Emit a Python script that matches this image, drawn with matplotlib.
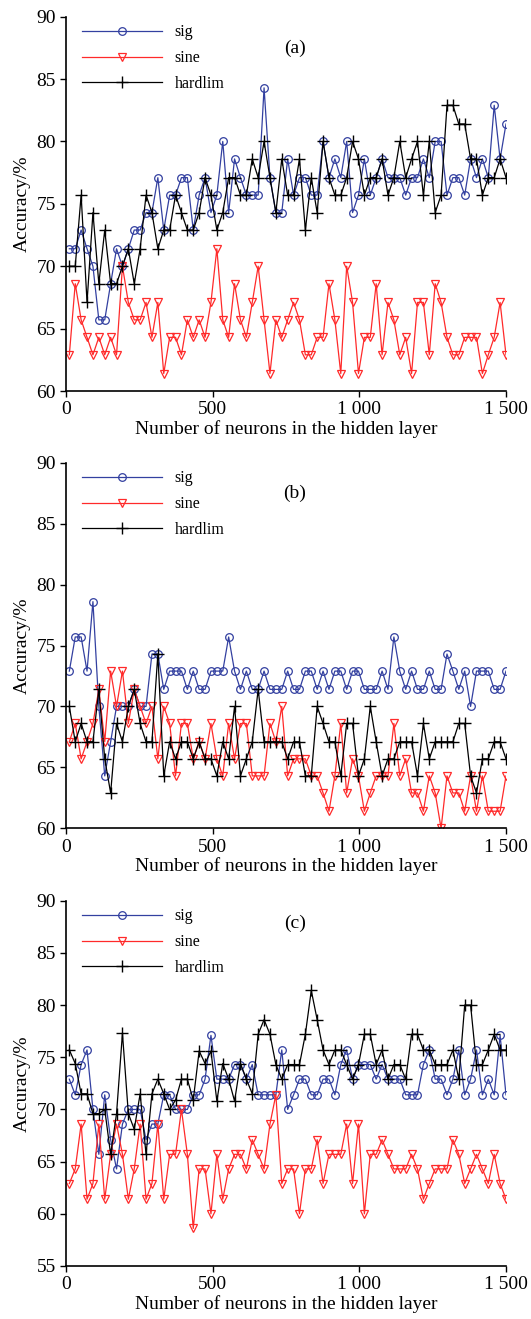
import numpy as np
import matplotlib
matplotlib.use('Agg')
import matplotlib.pyplot as plt

plt.rcParams['font.family'] = ['Liberation Serif', 'DejaVu Serif']

neurons = np.linspace(10, 1500, 75)

# panel (a)
sig_a = [71.4, 71.4, 72.9, 71.4, 70, 65.7, 65.7, 68.6, 71.4, 70, 71.4, 72.9, 72.9, 74.3, 74.3, 77.1, 72.9, 75.7, 75.7, 77.1,
         77.1, 72.9, 75.7, 77.1, 74.3, 75.7, 80, 74.3, 78.6, 77.1, 75.7, 75.7, 75.7, 84.3, 77.1, 74.3, 74.3, 78.6,
         75.7, 77.1, 77.1, 75.7, 75.7, 80, 77.1, 78.6, 77.1, 80, 74.3, 75.7, 78.6, 75.7, 77.1, 78.6, 77.1, 77.1,
         77.1, 75.7, 77.1, 77.1, 78.6, 77.1, 80, 80, 75.7, 77.1, 77.1, 75.7, 78.6, 77.1, 78.6, 77.1, 82.9, 78.6, 81.4]
sine_a = [62.9, 68.6, 65.7, 64.3, 62.9, 64.3, 62.9, 64.3, 62.9, 70, 67.1, 65.7, 65.7, 67.1, 64.3, 67.1, 61.4, 64.3, 64.3, 62.9,
          65.7, 64.3, 65.7, 64.3, 67.1, 71.4, 65.7, 64.3, 68.6, 65.7, 64.3, 67.1, 70, 65.7, 61.4, 65.7,
          64.3, 65.7, 67.1, 65.7, 62.9, 62.9, 64.3, 64.3, 68.6, 65.7, 61.4, 70, 67.1, 61.4, 64.3, 64.3, 68.6, 62.9, 67.1, 65.7,
          62.9, 64.3, 61.4, 67.1, 67.1, 62.9, 68.6, 67.1, 64.3, 62.9, 62.9, 64.3, 64.3, 64.3, 61.4, 62.9, 64.3, 67.1, 62.9]
hard_a = [70, 70, 75.7, 67.1, 74.3, 68.6, 72.9, 68.6, 68.6, 70, 71.4, 68.6, 71.4, 75.7, 74.3, 71.4, 72.9, 72.9, 75.7, 74.3,
          72.9, 72.9, 74.3, 77.1, 75.7, 72.9, 74.3, 77.1, 77.1, 75.7, 75.7, 78.6, 77.1, 80, 77.1, 74.3, 78.6, 75.7,
          75.7, 78.6, 72.9, 77.1, 74.3, 80, 77.1, 75.7, 75.7, 77.1, 80, 78.6, 75.7, 77.1, 77.1, 78.6, 75.7, 77.1,
          80, 77.1, 78.6, 80, 75.7, 80, 74.3, 75.7, 82.9, 82.9, 81.4, 81.4, 78.6, 78.6, 75.7, 77.1, 77.1, 78.6, 77.1]

# panel (b)
sig_b = [72.9, 75.7, 75.7, 72.9, 78.6, 70, 64.3, 67.1, 70, 70, 70, 71.4, 70, 70, 74.3, 74.3, 71.4, 72.9, 72.9,
         72.9, 71.4, 72.9, 71.4, 71.4, 72.9, 72.9, 72.9, 75.7, 72.9, 71.4, 72.9, 71.4, 71.4, 72.9, 71.4, 71.4, 71.4, 72.9,
         71.4, 71.4, 72.9, 72.9, 71.4, 72.9, 71.4, 72.9, 72.9, 71.4, 72.9, 72.9, 71.4, 71.4, 71.4, 72.9, 71.4, 75.7,
         72.9, 71.4, 72.9, 71.4, 71.4, 72.9, 71.4, 71.4, 74.3, 72.9, 71.4, 72.9, 70, 72.9, 72.9, 72.9, 71.4, 71.4, 72.9]
sine_b = [67.1, 68.6, 65.7, 67.1, 68.6, 71.4, 67.1, 72.9, 70, 72.9, 68.6, 71.4, 70, 68.6, 70, 65.7, 70,
          68.6, 64.3, 68.6, 68.6, 65.7, 67.1, 65.7, 68.6, 65.7, 64.3, 68.6, 65.7, 68.6, 68.6, 64.3, 64.3, 64.3, 68.6, 67.1, 70, 64.3,
          65.7, 65.7, 65.7, 64.3, 64.3, 62.9, 61.4, 64.3, 68.6, 62.9, 65.7, 64.3, 61.4, 62.9, 64.3, 64.3, 64.3, 68.6,
          64.3, 65.7, 62.9, 62.9, 61.4, 64.3, 62.9, 60, 64.3, 62.9, 62.9, 61.4, 64.3, 61.4, 64.3, 61.4, 61.4, 61.4, 64.3]
hard_b = [70, 67.1, 68.6, 67.1, 67.1, 71.4, 65.7, 62.9, 68.6, 67.1, 70, 71.4, 68.6, 67.1, 67.1, 74.3, 64.3, 67.1, 65.7,
          67.1, 67.1, 65.7, 67.1, 65.7, 65.7, 64.3, 67.1, 65.7, 70, 64.3, 65.7, 67.1, 71.4, 67.1, 67.1, 67.1, 67.1, 65.7,
          67.1, 67.1, 64.3, 64.3, 70, 68.6, 67.1, 67.1, 64.3, 68.6, 68.6, 64.3, 65.7, 70, 67.1, 64.3, 65.7, 65.7,
          67.1, 67.1, 67.1, 64.3, 68.6, 65.7, 67.1, 67.1, 67.1, 67.1, 68.6, 68.6, 64.3, 62.9, 65.7, 65.7, 67.1, 67.1, 65.7]

# panel (c)
sig_c = [72.9, 71.4, 74.3, 75.7, 70, 65.7, 71.4, 67.1, 64.3, 68.6, 70, 70, 70, 67.1, 68.6, 68.6, 71.4, 71.4, 70,
         70, 70, 71.4, 71.4, 72.9, 77.1, 72.9, 72.9, 72.9, 74.3, 74.3, 72.9, 74.3, 71.4, 71.4, 71.4, 71.4, 75.7, 70,
         71.4, 72.9, 72.9, 71.4, 71.4, 72.9, 72.9, 71.4, 74.3, 75.7, 72.9, 74.3, 74.3, 74.3, 72.9, 74.3, 72.9, 72.9,
         72.9, 71.4, 71.4, 71.4, 74.3, 75.7, 72.9, 72.9, 71.4, 72.9, 75.7, 71.4, 72.9, 75.7, 71.4, 72.9, 71.4, 77.1, 71.4]
sine_c = [62.9, 64.3, 68.6, 61.4, 62.9, 68.6, 61.4, 65.7, 68.6, 65.7, 61.4, 64.3, 68.6, 61.4, 62.9, 68.6, 61.4, 65.7, 65.7,
          70, 65.7, 58.6, 64.3, 64.3, 60, 65.7, 61.4, 64.3, 65.7, 65.7, 64.3, 67.1, 65.7, 64.3, 68.6, 71.4, 62.9, 64.3,
          64.3, 60, 64.3, 64.3, 67.1, 62.9, 65.7, 65.7, 65.7, 68.6, 62.9, 68.6, 60, 65.7, 65.7, 67.1, 65.7, 64.3,
          64.3, 64.3, 65.7, 64.3, 61.4, 62.9, 64.3, 64.3, 64.3, 67.1, 65.7, 62.9, 64.3, 65.7, 64.3, 62.9, 65.7, 62.9, 61.4]
hard_c = [75.7, 74.4, 71.5, 71.5, 69.6, 69.6, 70, 65.7, 69.6, 77.3, 69.6, 68.1, 71.5, 65.7, 71.5, 72.9, 71.5, 70, 70.9,
          72.9, 72.9, 70.9, 75.6, 74.4, 75.6, 70.8, 74.4, 72.9, 70.8, 74.4, 72.9, 71.5, 77.2, 78.6, 77.2, 74.3, 72.9, 74.3,
          74.3, 74.3, 77.2, 81.4, 78.6, 75.7, 74.3, 75.7, 75.7, 74.3, 72.9, 74.3, 77.2, 77.2, 74.3, 75.7, 72.9, 74.3,
          74.3, 72.9, 77.2, 77.2, 75.7, 75.7, 74.3, 74.3, 74.3, 75.7, 72.9, 80, 80, 74.3, 74.3, 75.7, 77.2, 75.7, 75.7]

panels = [('(a)', sig_a, sine_a, hard_a, 60),
          ('(b)', sig_b, sine_b, hard_b, 60),
          ('(c)', sig_c, sine_c, hard_c, 55)]
xticks = [0, 500, 1000, 1500]
xticklabels = ['0', '500', '1 000', '1 500']

W, H = 531, 1319
fig = plt.figure(figsize=(W / 100, H / 100), dpi=100)
# (top px, bottom px, tag y in px below top) of each axes box
boxes = [(16.7, 391, 31.5), (462.7, 828.3, 31), (900.7, 1266, 22.5)]
left, right = 66.4, 506

for (tag, sig, sine, hard, ymin), (top, bot, tag_dy) in zip(panels, boxes):
    h = bot - top
    ax = fig.add_axes([left / W, (H - bot) / H, (right - left) / W, h / H])
    ax.plot(neurons, sig, color='#3340a0', lw=0.9, marker='o', ms=5.5, mfc='none', mew=0.9, label='sig')
    ax.plot(neurons, sine, color='#ff2a2a', lw=0.9, marker='v', ms=5.5, mfc='none', mew=0.9, label='sine')
    ax.plot(neurons, hard, color='black', lw=0.9, marker='+', ms=8, mew=1.0, label='hardlim')
    ax.set_xlim(0, 1500)
    ax.set_ylim(ymin, 90)
    ax.set_xticks(xticks)
    ax.set_xticklabels(xticklabels)
    ax.set_yticks(range(ymin, 91, 5))
    ax.tick_params(direction='out', length=4, width=1, labelsize=14)
    for s in ['top', 'right']:
        ax.spines[s].set_visible(False)
    for s in ['left', 'bottom']:
        ax.spines[s].set_linewidth(1.2)
    ax.set_xlabel('Number of neurons in the hidden layer', fontsize=14, labelpad=1)
    ax.set_ylabel('Accuracy/%', fontsize=14, labelpad=4)
    ax.text(0.52, 1 - tag_dy / h, tag, transform=ax.transAxes, fontsize=14, ha='center', va='center')
    ax.legend(loc='upper left', bbox_to_anchor=(0.035, 1 - 7.5 / h), frameon=False, fontsize=11.5,
              handlelength=5.0, handletextpad=0.8, labelspacing=0.62, borderaxespad=0, borderpad=0,
              numpoints=1)

fig.savefig('out.png', dpi=100)
